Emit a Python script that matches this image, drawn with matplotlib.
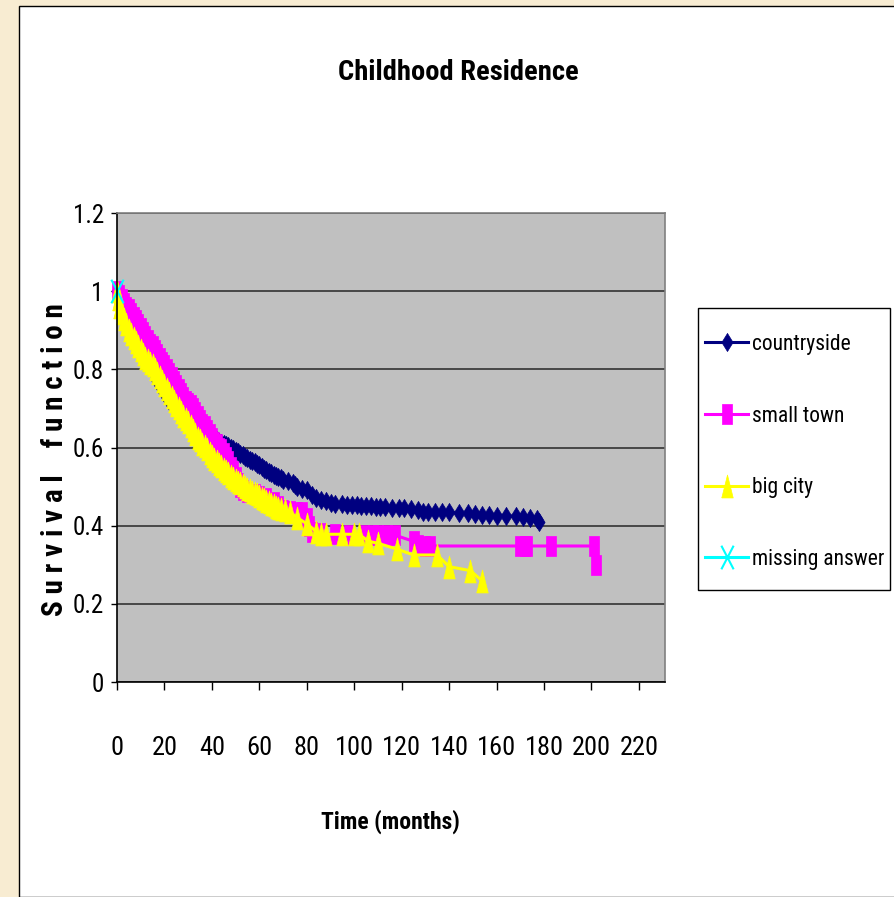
import matplotlib
matplotlib.use("Agg")
import matplotlib.pyplot as plt
from matplotlib.path import Path
from matplotlib.patches import Rectangle
from matplotlib import font_manager

# Kaplan-Meier estimates
country_t = [0, 1, 2, 3, 4, 5, 6, 7, 8, 9, 10, 11, 12, 13, 14, 15, 16, 17, 18, 19,
             20, 21, 22, 23, 24, 25, 26, 27, 28, 30, 31, 32, 33, 34, 35, 36, 37, 38, 39, 40,
             41, 42, 43, 44, 45, 46, 47, 48, 49, 50, 51, 52, 53, 54, 55, 56, 57, 58, 59, 60,
             61, 62, 63, 64, 65, 66, 67, 68, 69, 70, 72, 74, 75, 76, 78, 80, 82, 84, 86, 88,
             90, 92, 95, 97, 99, 101, 103, 105, 107, 109, 111, 113, 116, 119, 121, 124, 127, 129, 131, 134,
             137, 140, 144, 148, 151, 154, 157, 160, 164, 168, 171, 174, 177, 178]
country_s = [1.0, 0.99, 0.985, 0.98, 0.97, 0.96, 0.95, 0.935, 0.92, 0.9, 0.885, 0.87, 0.85, 0.835, 0.815, 0.8, 0.785, 0.77, 0.76, 0.75,
             0.74, 0.73, 0.72, 0.715, 0.71, 0.7, 0.69, 0.685, 0.675, 0.665, 0.66, 0.655, 0.65, 0.645, 0.64, 0.635, 0.63, 0.628, 0.625, 0.622,
             0.62, 0.618, 0.615, 0.612, 0.61, 0.607, 0.604, 0.6, 0.597, 0.592, 0.588, 0.584, 0.58, 0.576, 0.572, 0.568, 0.565, 0.562, 0.558, 0.554,
             0.55, 0.546, 0.542, 0.538, 0.534, 0.53, 0.527, 0.524, 0.521, 0.518, 0.514, 0.508, 0.504, 0.5, 0.495, 0.49, 0.478, 0.47, 0.466, 0.462,
             0.458, 0.455, 0.455, 0.452, 0.452, 0.452, 0.45, 0.45, 0.45, 0.448, 0.448, 0.448, 0.445, 0.445, 0.445, 0.443, 0.44, 0.436, 0.436, 0.436,
             0.434, 0.434, 0.432, 0.432, 0.43, 0.428, 0.428, 0.426, 0.426, 0.424, 0.422, 0.42, 0.416, 0.41]

town_t = [0, 1, 2, 3, 4, 5, 6, 7, 8, 9, 10, 11, 12, 13, 14, 15, 16, 17, 18, 19,
          20, 21, 22, 23, 24, 25, 26, 27, 28, 29, 30, 31, 32, 33, 34, 35, 36, 37, 38, 39,
          40, 41, 42, 43, 44, 45, 46, 47, 48, 49, 50, 51, 52, 53, 55, 58, 60, 63, 66, 68,
          70, 73, 76, 78, 80, 81, 82, 86, 92, 98, 104, 108, 110, 114, 117, 125, 127, 130, 132, 170,
          172, 173, 183, 201, 202]
town_s = [1.0, 0.99, 0.98, 0.97, 0.96, 0.955, 0.945, 0.935, 0.925, 0.915, 0.905, 0.895, 0.885, 0.875, 0.865, 0.86, 0.85, 0.84, 0.83, 0.82,
          0.81, 0.8, 0.79, 0.78, 0.77, 0.76, 0.75, 0.74, 0.73, 0.72, 0.715, 0.71, 0.7, 0.69, 0.68, 0.67, 0.66, 0.655, 0.645, 0.635,
          0.625, 0.615, 0.61, 0.6, 0.595, 0.585, 0.575, 0.565, 0.55, 0.54, 0.525, 0.51, 0.5, 0.49, 0.485, 0.48, 0.475, 0.47, 0.46, 0.45,
          0.44, 0.438, 0.435, 0.435, 0.42, 0.4, 0.385, 0.38, 0.378, 0.376, 0.376, 0.376, 0.376, 0.376, 0.376, 0.36, 0.35, 0.348, 0.348, 0.348,
          0.348, 0.348, 0.348, 0.348, 0.3]

city_t = [0, 0.5, 1, 2, 3, 4, 5, 6, 7, 8, 9, 10, 11, 12, 13, 14, 15, 16, 17, 18,
          19, 20, 21, 22, 23, 24, 25, 26, 27, 28, 29, 30, 31, 32, 33, 34, 35, 36, 37, 38,
          39, 40, 41, 42, 43, 44, 45, 46, 47, 48, 49, 50, 51, 52, 53, 54, 55, 56, 57, 58,
          59, 60, 61, 62, 63, 64, 65, 66, 67, 68, 69, 71, 73, 76, 80, 84, 86, 88, 95, 100,
          102, 106, 110, 118, 125, 135, 140, 149, 154]
city_s = [1.0, 0.98, 0.96, 0.945, 0.93, 0.915, 0.9, 0.89, 0.88, 0.87, 0.86, 0.85, 0.84, 0.83, 0.825, 0.815, 0.81, 0.8, 0.79, 0.78,
          0.77, 0.76, 0.75, 0.74, 0.73, 0.72, 0.71, 0.7, 0.69, 0.68, 0.672, 0.665, 0.655, 0.645, 0.635, 0.625, 0.62, 0.61, 0.605, 0.595,
          0.585, 0.578, 0.57, 0.565, 0.558, 0.552, 0.545, 0.54, 0.535, 0.528, 0.522, 0.518, 0.512, 0.508, 0.503, 0.5, 0.495, 0.49, 0.487, 0.483,
          0.48, 0.476, 0.472, 0.468, 0.464, 0.46, 0.456, 0.452, 0.448, 0.445, 0.442, 0.44, 0.435, 0.42, 0.405, 0.385, 0.378, 0.378, 0.378, 0.378,
          0.378, 0.36, 0.355, 0.34, 0.325, 0.325, 0.295, 0.285, 0.258]

missing_t = [0]
missing_s = [1.0]

series_names = ["countryside", "small town", "big city", "missing answer"]
x_ticks = list(range(0, 221, 20))
y_ticks = [0, 0.2, 0.4, 0.6, 0.8, 1, 1.2]
y_tick_labels = ["0", "0.2", "0.4", "0.6", "0.8", "1", "1.2"]


# pick a narrow Arial-like font that also has a bold face
def heavy(w):
    if isinstance(w, str):
        return font_manager.weight_dict.get(w, 400)
    return w


faces = {}
for f in font_manager.fontManager.ttflist:
    faces.setdefault(f.name, set()).add(heavy(f.weight))
narrow = "Liberation Sans"
for cand in ["Liberation Sans Narrow", "Arial Narrow", "Roboto Condensed", "PT Sans Narrow",
             "Archivo Narrow", "Pragati Narrow", "Fira Sans Condensed", "Open Sans Condensed"]:
    if cand in faces and max(faces[cand]) >= 700 and min(faces[cand]) <= 400:
        narrow = cand
        break
plt.rcParams["font.family"] = [narrow, "DejaVu Sans"]

# tall, thin markers (the original chart was stretched vertically)
diamond = Path([(0, 0.5), (0.31, 0), (0, -0.5), (-0.31, 0), (0, 0.5)])
square = Path([(-0.24, -0.5), (0.24, -0.5), (0.24, 0.5), (-0.24, 0.5), (-0.24, -0.5)])
triangle = Path([(-0.25, -0.5), (0.25, -0.5), (0, 0.5), (-0.25, -0.5)])
cross = Path([(-0.26, -0.5), (0.26, 0.5), (-0.26, 0.5), (0.26, -0.5)],
             [Path.MOVETO, Path.LINETO, Path.MOVETO, Path.LINETO])

W, H = 895, 897
fig = plt.figure(figsize=(W / 100, H / 100), dpi=100, facecolor="#F8ECD2")

# white chart area
fig.patches.append(Rectangle((19 / W, 0), 1, 1 - 6 / H, transform=fig.transFigure,
                             facecolor="white", edgecolor="black", lw=1, zorder=0))

ax = fig.add_axes([117 / W, 1 - 682 / H, 548 / W, 469 / H])
ax.set_zorder(2)
ax.set_facecolor("#C0C0C0")

lw = 2.2
ax.plot(country_t, country_s, color="#000080", lw=lw, marker=diamond, ms=13,
        mfc="#000080", mec="#000080", mew=0.5, label=series_names[0], clip_on=False)
ax.plot(town_t, town_s, color="#FF00FF", lw=lw, marker=square, ms=14.5,
        mfc="#FF00FF", mec="#FF00FF", mew=0.5, label=series_names[1], clip_on=False)
ax.plot(city_t, city_s, color="#FFFF00", lw=lw, marker=triangle, ms=16.5,
        mfc="#FFFF00", mec="#FFFF00", mew=0.5, label=series_names[2], clip_on=False)
ax.plot(missing_t, missing_s, color="#00FFFF", lw=lw, marker=cross, ms=17,
        mfc="none", mec="#00FFFF", mew=1.5, label=series_names[3], clip_on=False)

ax.set_xlim(0, 231)
ax.set_ylim(0, 1.2)
ax.set_xticks(x_ticks)
ax.set_yticks(y_ticks)
ax.set_yticklabels(y_tick_labels)
ax.tick_params(axis="x", direction="out", length=6, width=1, labelsize=19, pad=33)
ax.tick_params(axis="y", direction="out", length=4.5, width=1, labelsize=18, pad=5)
ax.grid(axis="y", color="#333333", lw=1.2)
ax.set_axisbelow(True)
for side in ["left", "bottom"]:
    ax.spines[side].set_color("black")
    ax.spines[side].set_linewidth(1.2)
for side in ["top", "right"]:
    ax.spines[side].set_color("#808080")
    ax.spines[side].set_linewidth(1.2)

fig.text(458 / W, 1 - 73 / H, "Childhood Residence", ha="center", va="center",
         fontsize=20.5, fontweight="bold")
fig.text(390 / W, 1 - 822 / H, "Time (months)", ha="center", va="center",
         fontsize=17, fontweight="bold")
fig.text(55 / W, 1 - 460 / H, "S u r v i v a l    f u n c t i o n", ha="center", va="center",
         rotation=90, fontsize=21, fontweight="bold")

# legend box drawn by hand, entries by matplotlib
fig.patches.append(Rectangle((698 / W, 1 - 590 / H), 192 / W, 282 / H, transform=fig.transFigure,
                             facecolor="white", edgecolor="black", lw=1, zorder=1))
handles, labels = ax.get_legend_handles_labels()
leg = fig.legend(handles, labels, loc="upper left", bbox_to_anchor=(705 / W, 1 - 334 / H),
                 frameon=False, fontsize=15.5, handlelength=2.0, handletextpad=0.18,
                 labelspacing=2.35, borderpad=0, borderaxespad=0)
leg.set_zorder(3)

fig.savefig("out.png", dpi=100, facecolor=fig.get_facecolor())
